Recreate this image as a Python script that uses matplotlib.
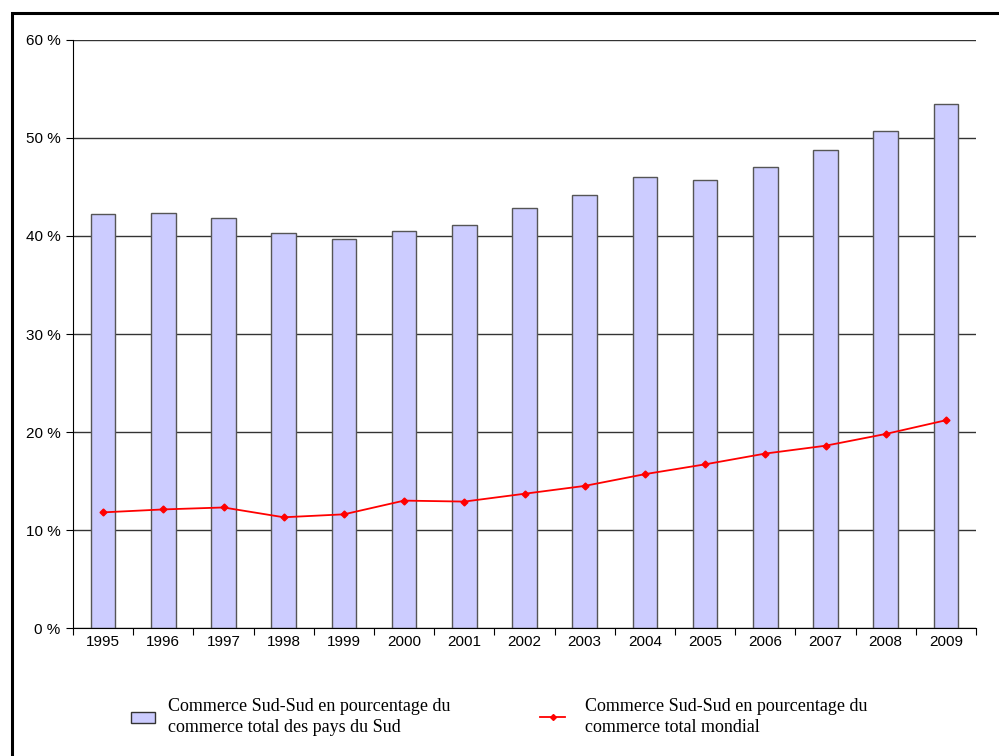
import matplotlib
matplotlib.use('Agg')
import matplotlib.pyplot as plt
from matplotlib.patches import Rectangle
from matplotlib.lines import Line2D
import numpy as np

# Années et parts (en %)
annees = ['1995', '1996', '1997', '1998', '1999', '2000', '2001', '2002',
          '2003', '2004', '2005', '2006', '2007', '2008', '2009']
part_sud = [42.2, 42.3, 41.8, 40.3, 39.7, 40.5, 41.1, 42.9,
            44.2, 46.0, 45.7, 47.0, 48.8, 50.7, 53.5]
part_mondial = [11.8, 12.1, 12.3, 11.3, 11.6, 13.0, 12.9, 13.7,
                14.5, 15.7, 16.7, 17.8, 18.6, 19.8, 21.2]
yticks = [0, 10, 20, 30, 40, 50, 60]

lbl_sud = "Commerce Sud-Sud en pourcentage du\ncommerce total des pays du Sud"
lbl_mondial = "Commerce Sud-Sud en pourcentage du\ncommerce total mondial"

fig = plt.figure(figsize=(9.99, 7.56), dpi=100)
ax = fig.add_axes([0.0731, 0.1693, 0.9039, 0.7778])

x = np.arange(len(annees))
ax.bar(x, part_sud, width=0.41, color='#ccccff', edgecolor='#555555',
       linewidth=1.0, zorder=2)
ax.plot(x, part_mondial, color='red', marker='D', markersize=3.5,
        linewidth=1.3, zorder=3)

ax.set_xlim(-0.5, len(annees) - 0.5)
ax.set_ylim(0, 60)
ax.set_yticks(yticks)
ax.set_yticklabels([f'{v} %' for v in yticks], fontsize=11,
                   family='Liberation Sans')
ax.yaxis.grid(True, color='#333333', linewidth=1.0, zorder=0)
ax.set_axisbelow(True)

# graduations entre les catégories, libellés au centre
ax.set_xticks(np.arange(-0.5, len(annees), 1))
ax.set_xticklabels([])
ax.set_xticks(x, minor=True)
ax.set_xticklabels(annees, minor=True, fontsize=11, family='Liberation Sans')
ax.tick_params(axis='x', which='minor', length=0, pad=5)
ax.tick_params(axis='x', which='major', length=5, direction='out', color='black')
ax.tick_params(axis='y', length=5, direction='out', color='black', pad=4)

for s in ['top', 'right']:
    ax.spines[s].set_visible(False)
ax.spines['left'].set_color('black')
ax.spines['bottom'].set_color('black')

# cadre du graphique
fig.patches.append(Rectangle((12 / 999, -0.05), 1.2, 1 - 13 / 756 + 0.05,
                             transform=fig.transFigure, fill=False,
                             edgecolor='black', linewidth=2.2))

# légende : deux blocs séparés sous le graphique
prop = {'family': 'Liberation Serif', 'size': 13}
h_bar = Rectangle((0, 0), 1, 1, facecolor='#ccccff', edgecolor='#333333',
                  linewidth=1.0)
h_line = Line2D([], [], color='red', marker='D', markersize=3, linewidth=1.3)
leg1 = fig.legend([h_bar], [lbl_sud], frameon=False, loc='center left',
                  bbox_to_anchor=(131 / 999, 1 - 717 / 756), prop=prop,
                  borderpad=0, borderaxespad=0, handlelength=1.35,
                  handleheight=0.55, handletextpad=0.72)
leg2 = fig.legend([h_line], [lbl_mondial], frameon=False, loc='center left',
                  bbox_to_anchor=(540 / 999, 1 - 717 / 756), prop=prop,
                  borderpad=0, borderaxespad=0, handlelength=1.4,
                  handletextpad=1.1)
for leg in (leg1, leg2):
    for t in leg.get_texts():
        t.set_linespacing(1.25)

fig.savefig('out.png', dpi=100)
